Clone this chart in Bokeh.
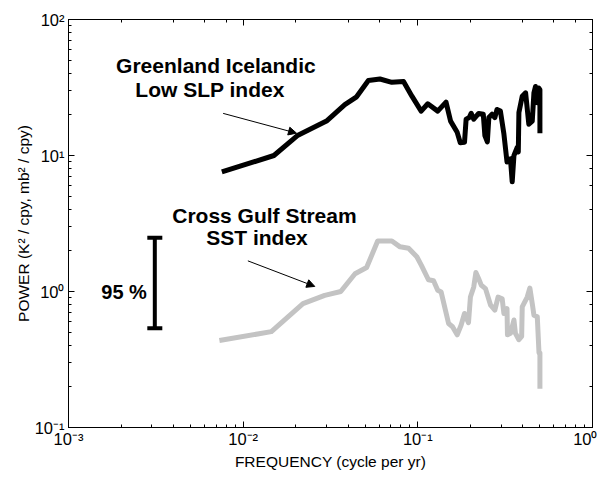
from bokeh.plotting import figure
from bokeh.models import LogAxis, Arrow, NormalHead, Range1d, LogTicker, CustomJSTickFormatter
from bokeh.core.properties import value
from bokeh.embed import file_html
from bokeh.resources import INLINE

# Greenland Icelandic Low SLP index spectrum
slp_freq = [0.00755, 0.0150, 0.0206, 0.0300, 0.0382, 0.0446, 0.0521, 0.0607, 0.0710, 0.0828,
            0.0925, 0.1045, 0.114, 0.130, 0.145, 0.154, 0.168, 0.175, 0.185, 0.189,
            0.197, 0.202, 0.209, 0.223, 0.237, 0.242, 0.250, 0.255, 0.266, 0.276,
            0.284, 0.297, 0.311, 0.324, 0.339, 0.347, 0.355, 0.371, 0.376, 0.379,
            0.396, 0.414, 0.432, 0.452, 0.462, 0.472, 0.483, 0.492, 0.500, 0.500]
slp_power = [7.57, 10.0, 14.1, 17.9, 23.7, 27.0, 35.6, 36.5, 34.5, 35.0,
             27.3, 21.2, 24.0, 21.2, 24.7, 17.9, 14.8, 12.4, 12.5, 18.5,
             19.0, 20.4, 18.5, 20.4, 20.1, 14.0, 12.6, 19.0, 20.1, 19.0,
             21.8, 21.2, 14.4, 8.95, 9.46, 6.41, 10.0, 11.5, 10.6, 20.7,
             27.3, 28.9, 17.0, 17.9, 28.9, 32.2, 24.4, 31.4, 30.5, 14.6]

# Cross Gulf Stream SST index spectrum
sst_freq = [0.00731, 0.0145, 0.0220, 0.0293, 0.0362, 0.0437, 0.0509, 0.0589, 0.0710, 0.0791,
            0.0885, 0.0987, 0.105, 0.115, 0.123, 0.130, 0.136, 0.150, 0.158, 0.168,
            0.177, 0.185, 0.195, 0.200, 0.209, 0.215, 0.223, 0.231, 0.244, 0.261,
            0.276, 0.288, 0.304, 0.311, 0.324, 0.326, 0.339, 0.355, 0.362, 0.379,
            0.393, 0.396, 0.423, 0.438, 0.452, 0.462, 0.483, 0.494, 0.500, 0.500]
sst_power = [0.436, 0.507, 0.814, 0.937, 1.00, 1.35, 1.50, 2.35, 2.35, 2.13,
             2.08, 1.80, 1.55, 1.22, 1.20, 1.02, 0.99, 0.582, 0.551, 0.480,
             0.567, 0.689, 0.590, 0.910, 1.08, 1.38, 1.24, 1.11, 1.05, 0.793,
             0.729, 0.910, 0.885, 0.689, 0.749, 0.480, 0.493, 0.617, 0.493, 0.442,
             0.467, 0.771, 0.910, 1.06, 0.814, 0.670, 0.652, 0.353, 0.353, 0.193]

# 95 % confidence bar
ci_freq = [0.00312]
ci_low = [0.536]
ci_high = [2.48]

FONT = "Liberation Sans"

sup_js = """
const sup = {"-": "\\u207b", "0": "\\u2070", "1": "\\u00b9", "2": "\\u00b2", "3": "\\u00b3"};
const e = Math.round(Math.log10(tick));
return "10" + String(e).split("").map(c => sup[c]).join("");
"""

p = figure(x_axis_type="log", y_axis_type="log",
           x_range=Range1d(1e-3, 1.0), y_range=Range1d(0.1, 100.0),
           width=597, height=472,
           min_border_left=68, min_border_top=19, min_border_right=5, min_border_bottom=40,
           output_backend="svg", toolbar_location=None,
           background_fill_color="white", border_fill_color="white")
p.grid.visible = False
p.outline_line_color = "black"
p.outline_line_width = 1

p.xaxis.axis_label = "FREQUENCY (cycle per yr)"
p.yaxis.axis_label = "POWER (K\u00b2 / cpy, mb\u00b2 / cpy)"

for ax in (p.xaxis[0], p.yaxis[0]):
    ax.formatter = CustomJSTickFormatter(code=sup_js)
    ax.major_tick_in = 6
    ax.major_tick_out = 0
    ax.minor_tick_in = 3
    ax.minor_tick_out = 0
    ax.axis_line_color = "black"
    ax.major_tick_line_color = "black"
    ax.minor_tick_line_color = "black"
    ax.major_label_text_font = FONT
    ax.major_label_text_font_size = "16.5px"
    ax.major_label_text_color = "black"
    ax.axis_label_text_font = FONT
    ax.axis_label_text_font_size = "15.5px"
    ax.axis_label_text_font_style = "normal"
    ax.axis_label_text_color = "black"

p.xaxis[0].major_label_standoff = 2
p.xaxis[0].axis_label_standoff = 2
p.yaxis[0].major_label_standoff = 4
p.yaxis[0].axis_label_standoff = 0

for loc in ("right", "above"):
    ax = LogAxis(ticker=LogTicker())
    ax.formatter = CustomJSTickFormatter(code="return '.';")
    ax.major_tick_in = 6
    ax.major_tick_out = 0
    ax.minor_tick_in = 3
    ax.minor_tick_out = 0
    ax.major_label_text_font_size = "1px"
    ax.major_label_text_alpha = 0
    ax.major_label_standoff = 0
    ax.axis_line_color = "black"
    p.add_layout(ax, loc)

p.line(slp_freq, slp_power, line_color="black", line_width=5, line_join="round")
p.line(sst_freq, sst_power, line_color="#c3c3c3", line_width=5, line_join="round")

p.segment(x0=ci_freq, y0=ci_low, x1=ci_freq, y1=ci_high, line_color="black", line_width=4)
p.scatter(x=ci_freq * 2, y=ci_low + ci_high, marker="dash", size=15, line_width=4, line_color="black")

p.text(x=[0.00281], y=[1.0], text=["95 %"], text_font=value(FONT), text_font_style="bold",
       text_font_size="20px", text_align="right", text_baseline="middle", text_color="black")

lab_x = [0.00698, 0.00646, 0.01324, 0.0120]
lab_y = [45.6, 30.5, 3.65, 2.48]
lab_t = ["Greenland Icelandic", "Low SLP index", "Cross Gulf Stream", "SST index"]
p.text(x=lab_x, y=lab_y, text=lab_t, text_font=value(FONT), text_font_style="bold",
       text_font_size="21px", text_align="center", text_baseline="middle", text_color="black")

p.add_layout(Arrow(x_start=0.00768, y_start=20.4, x_end=0.0202, y_end=14.6,
                   line_color="black", line_width=1,
                   end=NormalHead(size=8, fill_color="black", line_color="black")))
p.add_layout(Arrow(x_start=0.01064, y_start=1.68, x_end=0.0257, y_end=1.09,
                   line_color="black", line_width=1,
                   end=NormalHead(size=8, fill_color="black", line_color="black")))

open("out.html", "w").write(file_html(p, INLINE))
